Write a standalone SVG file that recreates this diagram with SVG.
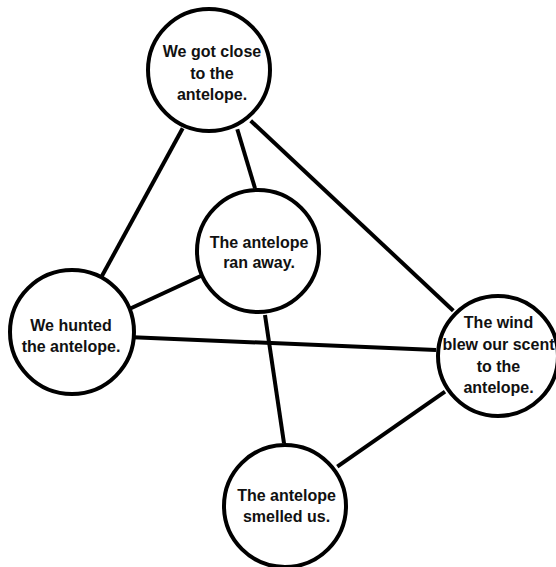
<svg xmlns="http://www.w3.org/2000/svg" width="556" height="567" viewBox="0 0 556 567">
<style>
.edge{stroke:#000;stroke-width:4;fill:none;stroke-linecap:butt}
.node circle{fill:#fff;stroke:#000;stroke-width:4}
.node text{font-family:"Liberation Sans",Arial,sans-serif;font-weight:bold;font-size:16px;fill:#111;text-anchor:middle}
</style>
<rect width="556" height="567" fill="#fff"/>
<g id="connectors">
<line class="edge" x1="182.7" y1="128.3" x2="100.7" y2="278.3"/>
<line class="edge" x1="237.3" y1="129.3" x2="255" y2="188.3"/>
<line class="edge" x1="250.7" y1="120.7" x2="453.3" y2="310.7"/>
<line class="edge" x1="200.7" y1="276" x2="129.3" y2="309"/>
<line class="edge" x1="133.3" y1="337.3" x2="436" y2="350"/>
<line class="edge" x1="265" y1="315" x2="284" y2="443.3"/>
<line class="edge" x1="445" y1="391.7" x2="337.3" y2="466.7"/>
</g>
<g id="node-close" class="node">
<circle cx="209" cy="70" r="61"/>
<text x="212" y="57">We got close</text>
<text x="212" y="78.5">to the</text>
<text x="212" y="100">antelope.</text>
</g>
<g id="node-ran" class="node">
<circle cx="258" cy="251" r="61"/>
<text x="259" y="248">The antelope</text>
<text x="259" y="268">ran away.</text>
</g>
<g id="node-hunted" class="node">
<circle cx="72" cy="332" r="62"/>
<text x="71" y="331">We hunted</text>
<text x="71" y="352">the antelope.</text>
</g>
<g id="node-wind" class="node">
<circle cx="498" cy="356" r="60"/>
<text x="498.5" y="328">The wind</text>
<text x="498.5" y="350">blew our scent</text>
<text x="498.5" y="372">to the</text>
<text x="498.5" y="393">antelope.</text>
</g>
<g id="node-smelled" class="node">
<circle cx="285" cy="506" r="61"/>
<text x="286.5" y="501">The antelope</text>
<text x="286.5" y="522">smelled us.</text>
</g>
</svg>
